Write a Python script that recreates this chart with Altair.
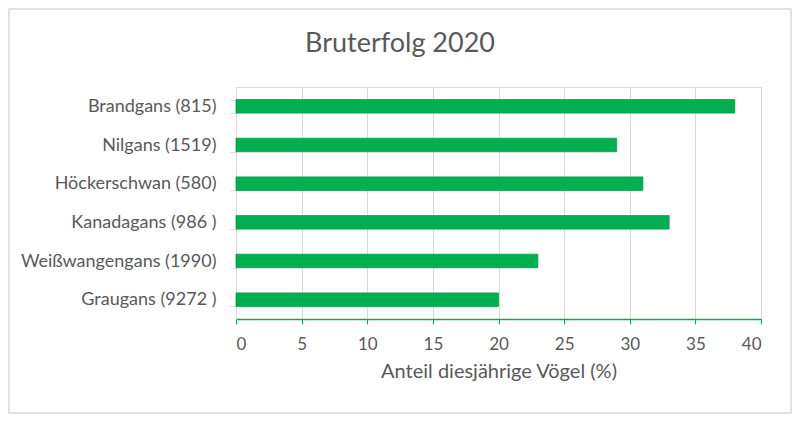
import altair as alt
import pandas as pd

species = ["Brandgans (815)", "Nilgans (1519)", "Höckerschwan (580)",
           "Kanadagans (986 )", "Weißwangengans (1990)", "Graugans (9272 )"]
shares = [38, 29, 31, 33, 23, 20]
x_ticks = [0, 5, 10, 15, 20, 25, 30, 35, 40]
chart_title = "Bruterfolg 2020"

df = pd.DataFrame({"art": species, "anteil": shares})

FONT = "Lato"
TXT = "#595959"
GRID = "#d9d9d9"
GREEN = "#00B050"

PW, PH = 525, 232
PL, PT = 228, 79
TOTAL_W, TOTAL_H = 784, 406
PR = TOTAL_W - PL - PW
PB = TOTAL_H - PT - PH

bars = alt.Chart(df).mark_bar(color=GREEN, stroke="#00a046", strokeWidth=0.8).encode(
    y=alt.Y("art:N", sort=species, title=None,
            scale=alt.Scale(paddingInner=0.65, paddingOuter=0.325),
            axis=alt.Axis(labelFont=FONT, labelFontSize=18, labelColor=TXT,
                          labelPadding=14, labelLimit=400, tickBand="extent",
                          tickSize=6, tickColor=GRID, domainColor=GRID,
                          grid=False)),
    x=alt.X("anteil:Q", title="Anteil diesjährige Vögel (%)",
            scale=alt.Scale(domain=[0, 40], nice=False),
            axis=alt.Axis(values=x_ticks, labelFont=FONT, labelFontSize=17,
                          labelColor=TXT, labelPadding=12, tickSize=5,
                          tickColor=GREEN, domainColor=GREEN, domainWidth=1.5,
                          gridColor=GRID, titleFont=FONT, titleFontSize=20,
                          titleFontWeight="normal", titleColor=TXT,
                          titlePadding=9)),
)

border = alt.Chart(pd.DataFrame({"k": [0]})).mark_rect(
    fill=None, stroke=GRID, strokeWidth=1.5).encode(
    x=alt.value(-PL + 1), x2=alt.value(PW + PR - 1),
    y=alt.value(-PT + 1), y2=alt.value(PH + PB - 1))

title = alt.Chart(pd.DataFrame({"t": [chart_title]})).mark_text(
    font=FONT, fontSize=27, color=TXT, align="center", baseline="alphabetic").encode(
    text="t:N", x=alt.value(164), y=alt.value(-35))

chart = alt.layer(border, title, bars).properties(
    width=PW, height=PH,
    autosize=alt.AutoSizeParams(type="none"),
    padding={"left": PL, "top": PT, "right": PR, "bottom": PB},
).configure_view(stroke=GRID).configure(background="white")

chart.save("out.html", embed_options={"renderer": "svg", "actions": False})
